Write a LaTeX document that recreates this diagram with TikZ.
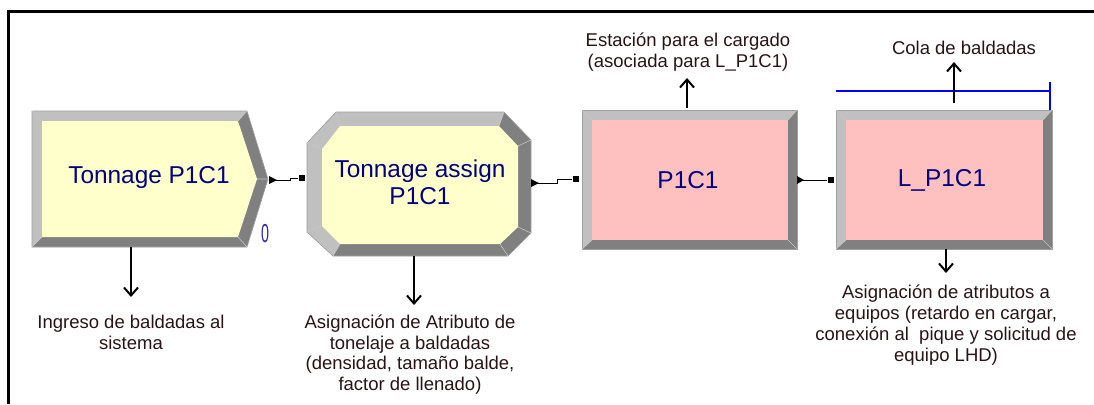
\documentclass[tikz,border=0pt]{standalone}
\usepackage{fontspec}
\setmainfont{Liberation Sans}
\usetikzlibrary{arrows.meta}
\definecolor{bevlight}{RGB}{192,192,192}
\definecolor{bevdark}{RGB}{128,128,128}
\definecolor{bevedge}{RGB}{160,160,160}
\definecolor{faceY}{RGB}{255,255,204}
\definecolor{faceP}{RGB}{255,192,192}
\definecolor{modtext}{RGB}{0,0,128}
\definecolor{counttext}{RGB}{40,40,170}
\definecolor{notetext}{RGB}{40,20,20}
\definecolor{queueblue}{RGB}{0,0,255}
\begin{document}
\begin{tikzpicture}[x=0.5pt,y=-0.5pt,
  modlabel/.style={text=modtext,font=\fontsize{12.2}{13.5}\selectfont,align=center,inner sep=0pt},
  countlbl/.style={text=counttext,font=\fontsize{13}{13}\selectfont,inner sep=0pt},
  note/.style={text=notetext,font=\fontsize{9.25}{10.4}\selectfont,align=center,inner sep=0pt},
  annot/.style={draw=black,line width=1pt,-{Straight Barb[length=4pt,width=7pt]}},
  conn/.style={draw=black,line width=0.5pt},
  entrysq/.style={fill=black,minimum size=3.4pt,inner sep=0pt},
  exittri/.style={fill=black},
  outl/.style={draw=bevedge,line width=0.3pt},
  bevline/.style={draw=bevedge!60,line width=0.3pt},
  queue/.style={draw=queueblue,line width=0.6pt},
  frame/.style={draw=black,line width=1.5pt}]
\useasboundingbox (0,0) rectangle (1094,404);

% frame
\draw[frame] (8.5,404) -- (8.5,11.3) -- (1094,11.3);

% ---- Create module (Tonnage P1C1)
\fill[bevdark] (32,111) -- (247,111) -- (268,179) -- (247,247) -- (32,247) -- cycle;
\fill[bevlight] (32,247) -- (32,111) -- (247,111) -- (238,121) -- (42,121) -- (42,237) -- cycle;
\fill[faceY] (42,121) -- (238,121) -- (257,179) -- (238,237) -- (42,237) -- cycle;
\draw[outl] (32,111) -- (247,111) -- (268,179) -- (247,247) -- (32,247) -- cycle;
\draw[bevline] (32,111) -- (42,121) (32,247) -- (42,237) (247,111) -- (238,121) (247,247) -- (238,237) (268,179) -- (257,179);
\node[modlabel] (create) at (149,178) {Tonnage P1C1};
\node[countlbl] (count) at (265,234) {\scalebox{0.55}[1]{0}};

% ---- Assign module (octagon)
\fill[bevdark] (336,112) -- (504,112) -- (531,140) -- (531,233) -- (508,256) -- (333,256) -- (307,232) -- (307,143) -- cycle;
\fill[bevlight] (333,256) -- (307,232) -- (307,143) -- (336,112) -- (504,112) -- (499,126) -- (340,126) -- (322,149) -- (322,226) -- (340,244) -- cycle;
\fill[faceY] (340,126) -- (499,126) -- (518,146) -- (518,227) -- (500,244) -- (340,244) -- (322,226) -- (322,149) -- cycle;
\draw[outl] (336,112) -- (504,112) -- (531,140) -- (531,233) -- (508,256) -- (333,256) -- (307,232) -- (307,143) -- cycle;
\draw[bevline] (336,112) -- (340,126) (307,143) -- (322,149) (307,232) -- (322,226) (333,256) -- (340,244) (504,112) -- (499,126) (531,140) -- (518,146) (531,233) -- (518,227) (508,256) -- (500,244);
\node[modlabel] (assign) at (420,182.5) {Tonnage assign\\P1C1};

% ---- Process module P1C1
\fill[bevdark] (582,110) rectangle (797,249);
\fill[bevlight] (582,249) -- (582,110) -- (797,110) -- (788,120) -- (592,120) -- (592,240) -- cycle;
\fill[faceP] (592,120) rectangle (788,240);
\draw[outl] (582,110) rectangle (797,249);
\draw[bevline] (582,110) -- (592,120) (797,110) -- (788,120) (582,249) -- (592,240) (797,249) -- (788,240);
\node[modlabel] (proc) at (688,180) {P1C1};

% ---- Process module L_P1C1
\fill[bevdark] (836,110) rectangle (1052,249);
\fill[bevlight] (836,249) -- (836,110) -- (1052,110) -- (1043,120) -- (846,120) -- (846,240) -- cycle;
\fill[faceP] (846,120) rectangle (1043,240);
\draw[outl] (836,110) rectangle (1052,249);
\draw[bevline] (836,110) -- (846,120) (1052,110) -- (1043,120) (836,249) -- (846,240) (1052,249) -- (1043,240);
\node[modlabel] (load) at (942,180) {L\_P1C1};

% queue line
\draw[queue] (836,91) -- (1050,91);
\draw[queue] (1050,82) -- (1050,110);

% ---- module connectors
\coordinate (createout) at (269,180);
\node[entrysq] (assignin) at (302,178) {};
\draw[conn] (createout) -- ++(21,0) |- (assignin);
\fill[exittri] (createout) ++(0,-4) -- ++(8,4) -- ++(-8,4) -- cycle;

\coordinate (assignout) at (531,183);
\node[entrysq] (procin) at (576,179) {};
\draw[conn] (assignout) -- ++(26,0) |- (procin);
\fill[exittri] (assignout) ++(0,-4) -- ++(8,4) -- ++(-8,4) -- cycle;

\coordinate (procout) at (797,180);
\node[entrysq] (loadin) at (831,180) {};
\draw[conn] (procout) -- (loadin);
\fill[exittri] (procout) ++(0,-4) -- ++(7,4) -- ++(-7,4) -- cycle;

% ---- annotations
\node[note] (createnote) at (131,332.5) {Ingreso de baldadas al\\sistema};
\coordinate (createbot) at (131,247);
\coordinate (createtip) at (131,297);
\draw[annot] (createbot) -- (createtip);

\node[note] (assignnote) at (410,354.5) {Asignación de Atributo de\\tonelaje a baldadas\\(densidad, tamaño balde,\\factor de llenado)};
\coordinate (assignbot) at (414,256);
\coordinate (assigntip) at (414,305);
\draw[annot] (assignbot) -- (assigntip);

\node[note] (loadnote) at (946,325) {Asignación de atributos a\\equipos (retardo en cargar,\\conexión al\ \ pique y solicitud de\\equipo LHD)};
\coordinate (loadbot) at (946,249);
\coordinate (loadtip) at (946,273);
\draw[annot] (loadbot) -- (loadtip);

\node[note] (procnote) at (688,52) {Estación para el cargado\\(asociada para L\_P1C1)};
\coordinate (proctop) at (687,108);
\coordinate (proctip) at (687,78);
\draw[annot] (proctop) -- (proctip);

\node[note] (queuenote) at (964,48) {Cola de baldadas};
\coordinate (queuebot) at (954,103);
\coordinate (queuetip) at (954,62);
\draw[annot] (queuebot) -- (queuetip);
\end{tikzpicture}
\end{document}
